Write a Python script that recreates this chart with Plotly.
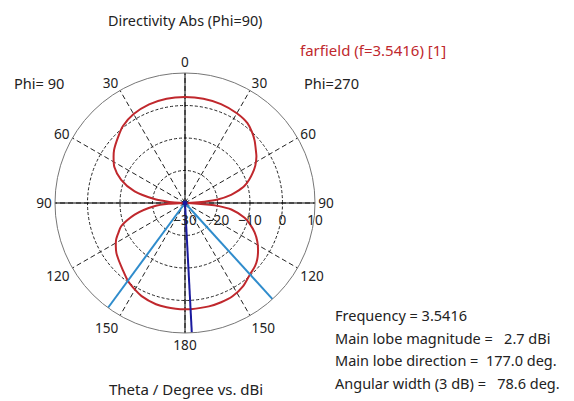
import plotly.graph_objects as go

# ---- data ----
# Phi=270 plane (drawn on the right half), theta in degrees, directivity in dBi
theta_phi270 = [0, 10, 20, 30, 38, 43, 48, 54, 57, 62, 66, 70, 74, 78, 80, 84, 86, 88, 90,
                92, 94, 95, 98, 104, 108, 113, 118, 123, 128, 132, 137.7, 145, 153, 160,
                167, 177, 180]
dir_phi270 = [2.6, 2.6, 2.4, 1.9, 1.2, 0.1, -1.2, -3.0, -3.8, -5.5, -7.2, -9.0, -11.0, -14.0,
              -15.6, -19.9, -24.0, -28.0, -30.0, -28.0, -22.5, -19.9, -15.6, -11.1, -9.0,
              -6.7, -4.8, -3.2, -1.8, -1.0, -0.3, 1.2, 2.2, 2.5, 2.65, 2.7, 2.7]
# Phi=90 plane (drawn on the left half), theta from 180 back to 0
theta_phi90 = [175, 170, 164, 155, 150, 143.7, 137, 130, 126, 122, 118, 114, 110, 103,
               96, 93, 90, 87, 85, 82.5, 77, 70, 63, 57, 53, 45, 39, 30, 20, 10, 0]
dir_phi90 = [2.65, 2.6, 2.4, 1.6, 0.8, -0.3, -1.9, -3.2, -3.9, -4.9, -6.0, -7.6, -9.1,
             -14.1, -20.5, -25.0, -30.0, -26.0, -24.0, -20.5, -14.1, -9.1, -5.6, -3.8,
             -2.7, -1.0, 0.4, 1.6, 2.3, 2.6, 2.6]

main_lobe_dir = 177.0
beam_edges = [137.7, 216.3]
r_min, r_max = -30, 10
radial_ticks = [-30, -20, -10, 0, 10]
angle_tickvals = [0, 30, 60, 90, 120, 150, 180, 210, 240, 270, 300, 330]
angle_ticktext = ["0", "30", "60", "90", "120", "150", "180", "150", "120", "90", "60", "30"]

info_lines = ["Frequency = 3.5416",
              "Main lobe magnitude =   2.7 dBi",
              "Main lobe direction =  177.0 deg.",
              "Angular width (3 dB) =   78.6 deg."]

FONT = "Noto Sans"
OFF = 8                 # the page body adds an 8 px margin around the figure
PW, PH = 574, 401       # page size
W, H = PW - OFF, PH - OFF
cx, cy, R = 185 - OFF, 203 - OFF, 130
TXT = "#222"

ang = theta_phi270 + [360 - t for t in theta_phi90]
rad = dir_phi270 + dir_phi90

fig = go.Figure()
# solid axis lines (horizontal and vertical diameters)
fig.add_trace(go.Scatterpolar(r=[r_max, r_min, r_max], theta=[90, 90, 270], mode="lines",
                              line=dict(color="black", width=1), hoverinfo="skip"))
fig.add_trace(go.Scatterpolar(r=[r_max, r_min, r_max], theta=[0, 0, 180], mode="lines",
                              line=dict(color="black", width=1), hoverinfo="skip"))
# pattern
fig.add_trace(go.Scatterpolar(r=rad, theta=ang, mode="lines",
                              line=dict(color="#c0282d", width=2, shape="spline", smoothing=0.8)))
# 3 dB beam edges
for b in beam_edges:
    fig.add_trace(go.Scatterpolar(r=[r_min, r_max], theta=[b, b], mode="lines",
                                  line=dict(color="#2f8ccc", width=2)))
# main lobe direction
fig.add_trace(go.Scatterpolar(r=[r_min, r_max], theta=[main_lobe_dir, main_lobe_dir], mode="lines",
                              line=dict(color="#1a1a9e", width=2)))
fig.add_trace(go.Scatterpolar(r=[r_min], theta=[0], mode="markers",
                              marker=dict(color="#1a1a9e", size=5)))

fig.update_layout(
    width=W, height=H, showlegend=False,
    margin=dict(l=0, r=0, t=0, b=0),
    paper_bgcolor="white", plot_bgcolor="white",
    font=dict(family=FONT, size=13.6, color=TXT),
    polar=dict(
        domain=dict(x=[(cx - R) / W, (cx + R) / W], y=[(H - cy - R) / H, (H - cy + R) / H]),
        bgcolor="white",
        angularaxis=dict(direction="clockwise", rotation=90, tickmode="array",
                         tickvals=angle_tickvals, ticktext=angle_ticktext,
                         showline=True, linecolor="#777", linewidth=1,
                         gridcolor="#222", griddash="5px,3px", gridwidth=1,
                         ticks="", tickfont=dict(size=13.6, color=TXT, family=FONT)),
        radialaxis=dict(range=[r_min, r_max], tickmode="array", tickvals=radial_ticks,
                        angle=0, side="clockwise", showline=False,
                        ticks="outside", ticklen=5, tickcolor="rgba(0,0,0,0)",
                        gridcolor="#222", griddash="3px,2px", gridwidth=1,
                        tickfont=dict(size=13.6, color=TXT, family=FONT)),
    ),
)

ann = [
    dict(text="Directivity Abs (Phi=90)", x=185, y=20, size=14.4),
    dict(text="farfield (f=3.5416) [1]", x=372.5, y=50, size=15, color="#c0282d"),
    dict(text="Phi= 90", x=39, y=83, size=14.6),
    dict(text="Phi=270", x=331.5, y=83, size=14.6),
    dict(text="Theta / Degree vs. dBi", x=186, y=389, size=15),
]
for a in ann:
    fig.add_annotation(text=a["text"], x=(a["x"] - OFF) / W, y=1 - (a["y"] - OFF) / H,
                       xref="paper", yref="paper",
                       showarrow=False, xanchor="center", yanchor="middle",
                       font=dict(family=FONT, size=a["size"], color=a.get("color", TXT)))
for i, line in enumerate(info_lines):
    fig.add_annotation(text=line.replace(" ", "\u00a0"), x=(333 - OFF) / W,
                       y=1 - (315 + 22.7 * i - OFF) / H,
                       xref="paper", yref="paper", showarrow=False, xanchor="left", yanchor="middle",
                       font=dict(family=FONT, size=14.5, color=TXT))

fig.write_html("out.html")
